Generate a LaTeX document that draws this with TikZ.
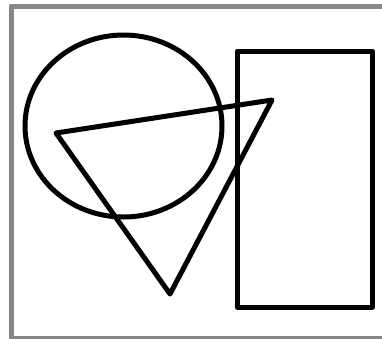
\documentclass[tikz,border=0pt]{standalone}
\usetikzlibrary{calc}

\begin{document}
\begin{tikzpicture}[x=1pt,y=-1pt,line join=round]
  \tikzstyle{shapeline}=[draw=black,line width=5pt]
  \tikzstyle{framebox}=[draw=black!47,line width=5pt]
  \useasboundingbox (0,0) rectangle (382,338);
  \clip (0,0) rectangle (382,338);
  \draw[framebox] (11,6) rectangle (400,338.5);

  % ellipse on the left
  \coordinate (eo) at (123.5,126);
  \draw[shapeline] (eo) ellipse [x radius=98.5,y radius=91];

  % tall rectangle on the right
  \coordinate (rtl) at (237,51);
  \coordinate (rbr) at (372,307);
  \draw[shapeline] (rtl) rectangle (rbr);

  % triangle across both
  \coordinate (ta) at (56,133);
  \coordinate (tb) at (272,100);
  \coordinate (tc) at (170,294);
  \draw[shapeline] (ta) -- (tb) -- (tc) -- cycle;
\end{tikzpicture}
\end{document}
